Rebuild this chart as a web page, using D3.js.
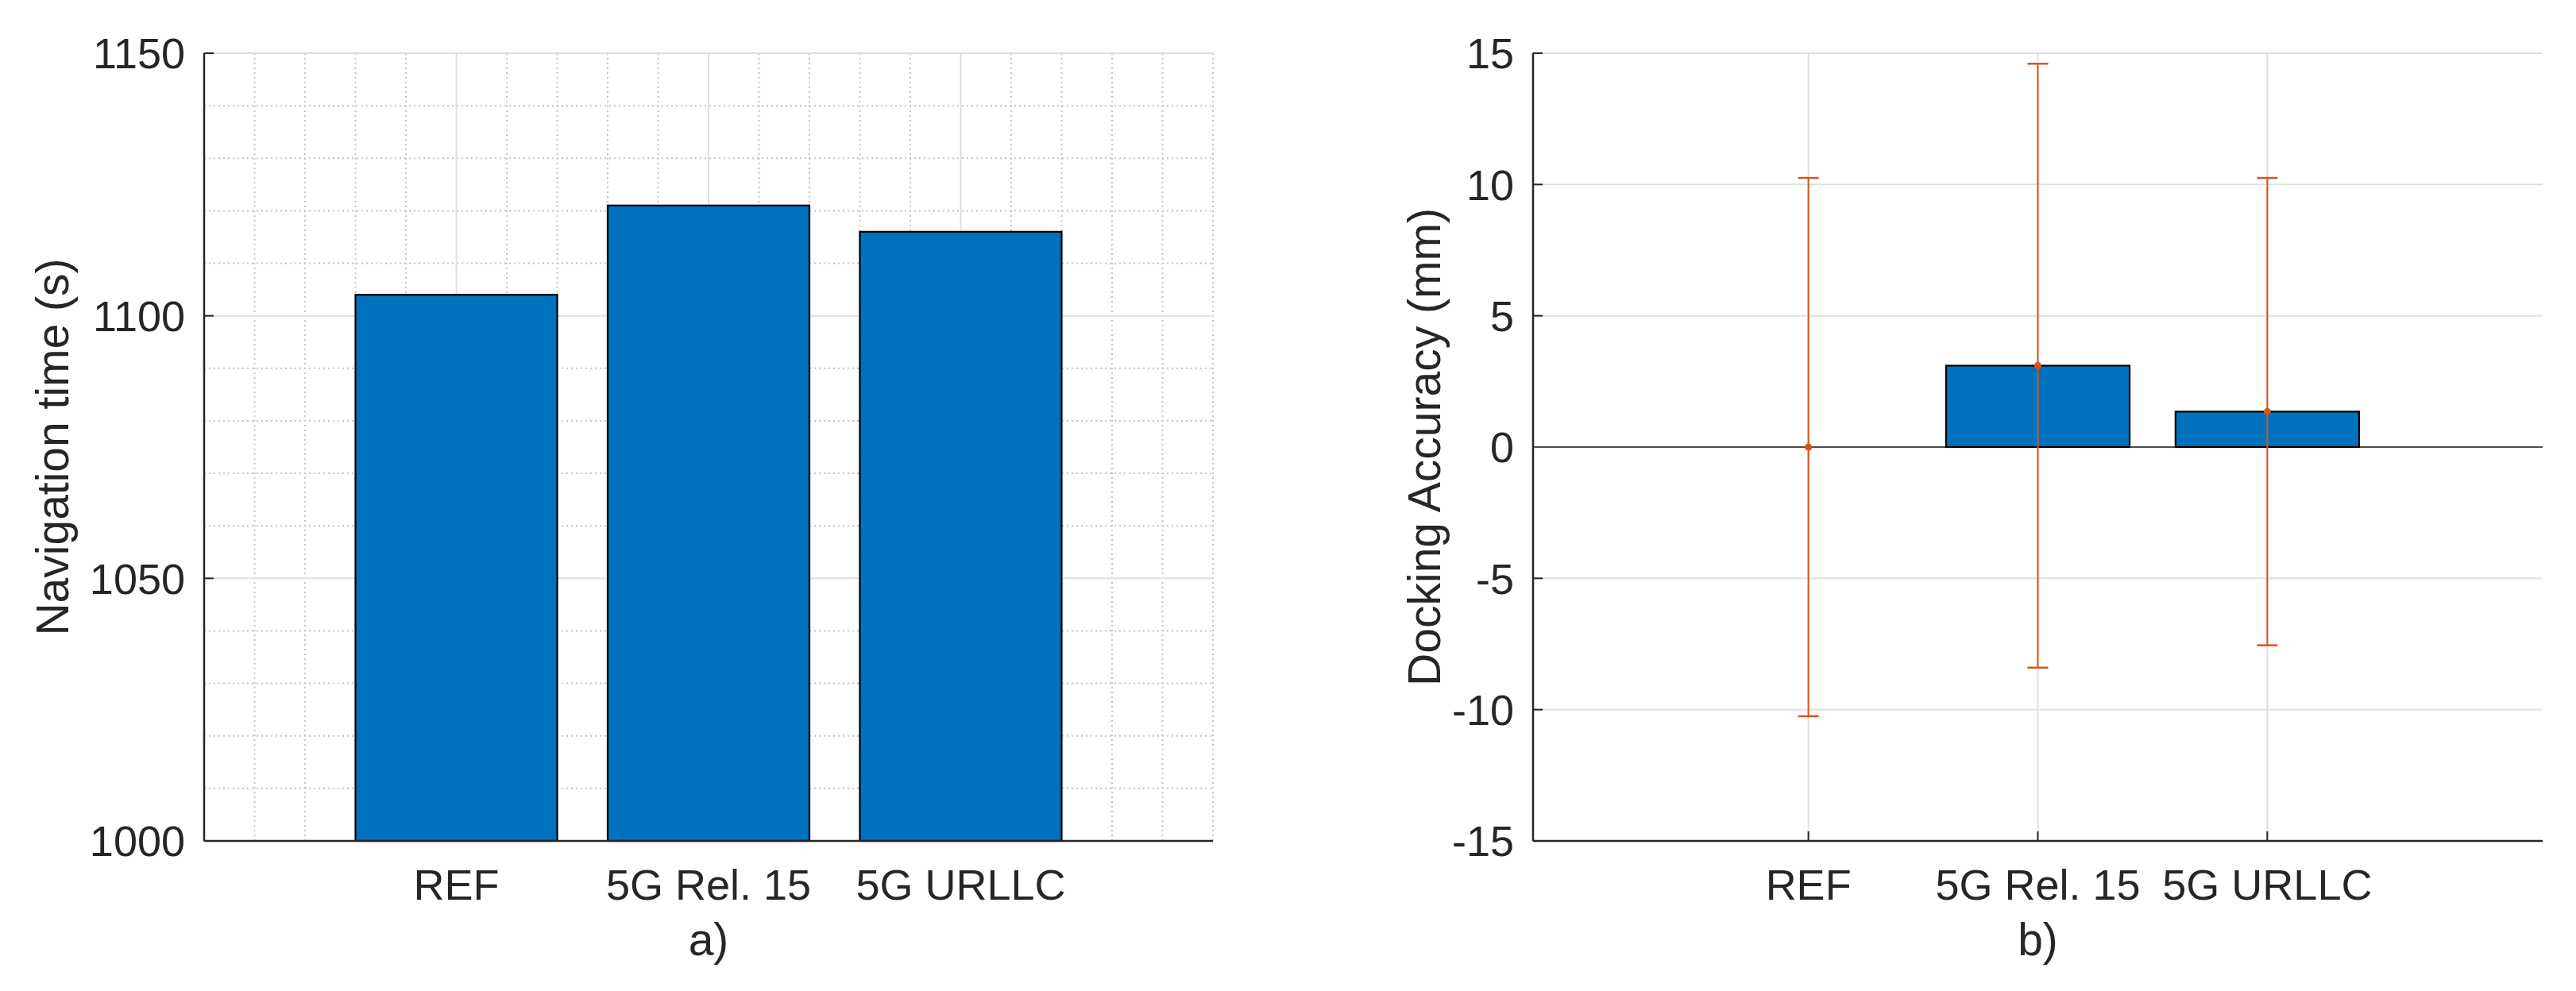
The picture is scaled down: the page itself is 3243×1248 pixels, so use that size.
<!DOCTYPE html>
<html>
<head>
<meta charset="utf-8">
<script src="https://cdn.jsdelivr.net/npm/d3@7"></script>
<style>
  body { margin: 0; background: #fff; }
  text { font-family: "Liberation Sans", Arial, Helvetica, sans-serif; fill: #262626; }
</style>
</head>
<body>
<svg id="chart" width="3243" height="1248"></svg>
<script>
// data
const categories = ["REF", "5G Rel. 15", "5G URLLC"];
const navTime = [1104, 1121, 1116];          // a) navigation time (s)
const dockMean = [0, 3.1, 1.35];             // b) docking accuracy mean (mm)
const dockErr = [10.25, 11.5, 8.9];          // b) error bar half length (mm)
const navTicks = [1000, 1050, 1100, 1150];
const dockTicks = [-15, -10, -5, 0, 5, 10, 15];

const svg = d3.select("#chart");
const barColor = "#0072bd";
const errColor = "#d95319";
const axisColor = "#262626";
const gridColor = "#dfdfdf";
const minorColor = "#c4c4c4";
const tickFont = 54;
const labelFont = 57;

const plotTop = 67, plotBottom = 1059;

// helper: draw one panel
let draw_panel = (opt) => {
    const g = svg.append("g");
    const x = d3.scaleLinear().domain(opt.xDomain).range([opt.left, opt.right]);
    const y = d3.scaleLinear().domain(opt.yDomain).range([plotBottom, plotTop]);

    // minor grid (dotted)
    if (opt.minor) {
        g.selectAll(".mx").data(opt.minorX).enter().append("line")
            .attr("x1", d => x(d)).attr("x2", d => x(d))
            .attr("y1", plotTop).attr("y2", plotBottom)
            .attr("stroke", minorColor).attr("stroke-width", 2)
            .attr("stroke-dasharray", "2,4");
        g.selectAll(".my").data(opt.minorY).enter().append("line")
            .attr("x1", opt.left).attr("x2", opt.right)
            .attr("y1", d => y(d)).attr("y2", d => y(d))
            .attr("stroke", minorColor).attr("stroke-width", 2)
            .attr("stroke-dasharray", "2,4");
    }
    // major grid
    g.selectAll(".gx").data(categories).enter().append("line")
        .attr("x1", (d, i) => x(i + 1)).attr("x2", (d, i) => x(i + 1))
        .attr("y1", plotTop).attr("y2", plotBottom)
        .attr("stroke", gridColor).attr("stroke-width", 2);
    g.selectAll(".gy").data(opt.ticks).enter().append("line")
        .attr("x1", opt.left).attr("x2", opt.right)
        .attr("y1", d => y(d)).attr("y2", d => y(d))
        .attr("stroke", gridColor).attr("stroke-width", 2);

    // ticks (inside, under the bars)
    g.selectAll(".ty").data(opt.ticks).enter().append("line")
        .attr("x1", opt.left).attr("x2", opt.left + 12)
        .attr("y1", d => y(d)).attr("y2", d => y(d))
        .attr("stroke", axisColor).attr("stroke-width", 2);
    g.selectAll(".tx").data(categories).enter().append("line")
        .attr("x1", (d, i) => x(i + 1)).attr("x2", (d, i) => x(i + 1))
        .attr("y1", plotBottom).attr("y2", plotBottom - 12)
        .attr("stroke", axisColor).attr("stroke-width", 2);

    // baseline at zero if visible
    if (opt.yDomain[0] < 0) {
        g.append("line")
            .attr("x1", opt.left).attr("x2", opt.right)
            .attr("y1", y(0)).attr("y2", y(0))
            .attr("stroke", "#4d4d4d").attr("stroke-width", 2);
    }

    // bars
    const base = Math.max(0, opt.yDomain[0]);
    g.selectAll(".bar").data(opt.values).enter().append("rect")
        .attr("x", (d, i) => x(i + 1 - 0.4))
        .attr("width", x(0.8) - x(0))
        .attr("y", d => y(Math.max(d, base)))
        .attr("height", d => Math.abs(y(d) - y(base)))
        .attr("fill", barColor)
        .attr("stroke", "#000").attr("stroke-width", 2.2);

    // error bars
    if (opt.err) {
        const eb = g.selectAll(".err").data(opt.values).enter().append("g");
        eb.append("line")
            .attr("x1", (d, i) => x(i + 1)).attr("x2", (d, i) => x(i + 1))
            .attr("y1", (d, i) => y(d + opt.err[i])).attr("y2", (d, i) => y(d - opt.err[i]))
            .attr("stroke", errColor).attr("stroke-width", 2);
        eb.append("line")
            .attr("x1", (d, i) => x(i + 1) - 13).attr("x2", (d, i) => x(i + 1) + 13)
            .attr("y1", (d, i) => y(d + opt.err[i])).attr("y2", (d, i) => y(d + opt.err[i]))
            .attr("stroke", errColor).attr("stroke-width", 2.5);
        eb.append("line")
            .attr("x1", (d, i) => x(i + 1) - 13).attr("x2", (d, i) => x(i + 1) + 13)
            .attr("y1", (d, i) => y(d - opt.err[i])).attr("y2", (d, i) => y(d - opt.err[i]))
            .attr("stroke", errColor).attr("stroke-width", 2.5);
        eb.append("circle")
            .attr("cx", (d, i) => x(i + 1)).attr("cy", d => y(d))
            .attr("r", 4.5).attr("fill", errColor);
    }

    // axis lines (left and bottom only)
    g.append("line")
        .attr("x1", opt.left).attr("x2", opt.left)
        .attr("y1", plotTop).attr("y2", plotBottom)
        .attr("stroke", axisColor).attr("stroke-width", 2.5);
    g.append("line")
        .attr("x1", opt.left).attr("x2", opt.right)
        .attr("y1", plotBottom).attr("y2", plotBottom)
        .attr("stroke", axisColor).attr("stroke-width", 2.5);

    // tick labels
    g.selectAll(".ly").data(opt.ticks).enter().append("text")
        .attr("x", opt.left - 24).attr("y", d => y(d))
        .attr("dy", "0.36em")
        .attr("text-anchor", "end")
        .attr("font-size", tickFont)
        .text(d => d);
    g.selectAll(".lx").data(categories).enter().append("text")
        .attr("x", (d, i) => x(i + 1)).attr("y", 1133)
        .attr("text-anchor", "middle")
        .attr("font-size", tickFont)
        .text(d => d);

    // y label
    g.append("text")
        .attr("transform", "translate(" + opt.ylabelX + "," + ((plotTop + plotBottom) / 2) + ") rotate(-90)")
        .attr("text-anchor", "middle")
        .attr("font-size", labelFont)
        .text(opt.ylabel);

    // sub caption
    g.append("text")
        .attr("x", (opt.left + opt.right) / 2).attr("y", 1203)
        .attr("text-anchor", "middle")
        .attr("font-size", labelFont)
        .text(opt.caption);
};

// minor grid positions for panel a)
let minorX = [];
for (let k = 1; k <= 20; k++) {
    let v = k * 0.2;
    if (Math.abs(v - Math.round(v)) > 0.01 || Math.round(v) === 4) minorX.push(v);
}
let minorY = [];
for (let v = 1010; v < 1150; v += 10) {
    if (v % 50 !== 0) minorY.push(v);
}

draw_panel({
    left: 257, right: 1527,
    xDomain: [0, 4], yDomain: [1000, 1150],
    ticks: navTicks, values: navTime,
    minor: true, minorX: minorX, minorY: minorY,
    ylabel: "Navigation time (s)", ylabelX: 86, caption: "a)"
});

draw_panel({
    left: 1930, right: 3201,
    xDomain: [-0.2, 4.2], yDomain: [-15, 15],
    ticks: dockTicks, values: dockMean, err: dockErr,
    minor: false,
    ylabel: "Docking Accuracy (mm)", ylabelX: 1813, caption: "b)"
});
</script>
</body>
</html>
